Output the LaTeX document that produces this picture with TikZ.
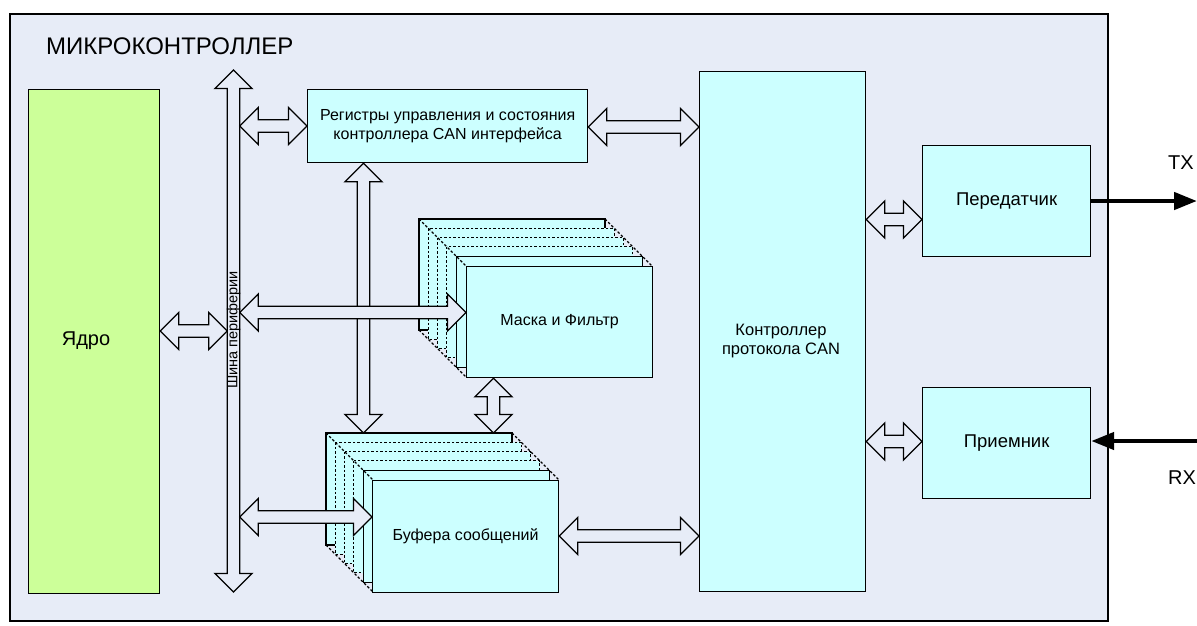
\documentclass[tikz,border=0pt]{standalone}
\usepackage{fontspec}
\setmainfont{Liberation Sans}
\usetikzlibrary{calc,arrows.meta}
\definecolor{bgc}{HTML}{E7ECF7}
\definecolor{cyanbox}{HTML}{CCFFFF}
\definecolor{limebox}{HTML}{CCFF99}
\newcommand{\fsnorm}{\fontsize{16}{18.5}\selectfont}
\newcommand{\fsbig}{\fontsize{18.5}{21}\selectfont}
% horizontal double block arrow: x from #1 and #2, y = #3
\newcommand{\harrow}[3]{\draw[blockarrow] let \p1=#1, \p2=#2, \p3=(0,#3) in
  (\x1,\y3) -- (\x1+18.5pt,\y3+18.5pt) -- (\x1+18.5pt,\y3+6.25pt) -- (\x2-18.5pt,\y3+6.25pt)
  -- (\x2-18.5pt,\y3+18.5pt) -- (\x2,\y3) -- (\x2-18.5pt,\y3-18.5pt) -- (\x2-18.5pt,\y3-6.25pt)
  -- (\x1+18.5pt,\y3-6.25pt) -- (\x1+18.5pt,\y3-18.5pt) -- cycle;}
% vertical double block arrow: y from #1 (top) and #2 (bottom), x = #3
\newcommand{\varrow}[3]{\draw[blockarrow] let \p1=#1, \p2=#2, \p3=(#3,0) in
  (\x3,\y1) -- (\x3+18.5pt,\y1-18.5pt) -- (\x3+6.25pt,\y1-18.5pt) -- (\x3+6.25pt,\y2+18.5pt)
  -- (\x3+18.5pt,\y2+18.5pt) -- (\x3,\y2) -- (\x3-18.5pt,\y2+18.5pt) -- (\x3-6.25pt,\y2+18.5pt)
  -- (\x3-6.25pt,\y1-18.5pt) -- (\x3-18.5pt,\y1-18.5pt) -- cycle;}
% stack of layers behind a front box: back top-left #1,#2, height #3
\newcommand{\layerstack}[3]{%
  \draw[layerbox] (#1,#2) rectangle ++(186,#3);
  \foreach \i in {1,2,3}{\draw[layerbox,dashedlayer] ({#1+9.3*\i},{#2+9.3*\i}) rectangle ++(186,#3);}
  \draw[layerbox] ({#1+9.3*4},{#2+9.3*4}) rectangle ++(186,#3);
  \draw[dashedlayer] (#1,#2) -- ++(46.5,46.5);
  \draw[dashedlayer] ({#1+186},#2) -- ++(46.5,46.5);
  \draw[dashedlayer] (#1,{#2+#3}) -- ++(46.5,46.5);
}
\begin{document}
\begin{tikzpicture}[x=1pt,y=-1pt,
  box/.style={draw, line width=1.2pt, fill=cyanbox, inner sep=0pt, anchor=north west, align=center, font=\fsnorm},
  layerbox/.style={draw, line width=1.2pt, fill=cyanbox},
  dashedlayer/.style={line width=1.1pt, dash pattern=on 2.5pt off 2pt},
  blockarrow/.style={draw, line width=1.3pt, fill=bgc, line join=miter},
  txt/.style={font=\fsnorm, align=center, inner sep=0pt},
  sig/.style={line width=4.5pt, -{Triangle[length=23pt,width=17pt]}}]
\useasboundingbox (0,0) rectangle (1197,625);
\fill[white] (0,0) rectangle (1197,625);
% microcontroller frame
\draw[line width=2.2pt, fill=bgc] (10,14) rectangle (1108,621);
\node[anchor=west, inner sep=0pt, font=\fontsize{24}{27}\selectfont] (title) at (46,46) {МИКРОКОНТРОЛЛЕР};
% core
\node[box, fill=limebox, minimum width=131pt, minimum height=504pt] (core) at (28,89) {};
\node[txt, font=\fontsize{20}{24}\selectfont] (coretext) at (86,341) {Ядро};
% peripheral bus
\coordinate (busT) at (233.5,70);
\coordinate (busB) at (233.5,592);
\coordinate (busL) at (227.25,0);
\coordinate (busR) at (239.75,0);
\varrow{(busT)}{(busB)}{233.5}
\node[rotate=90, inner sep=0pt, font=\fontsize{14.5}{16}\selectfont] (buslabel) at (233.5,330) {Шина периферии};
% registers
\node[box, minimum width=280pt, minimum height=73pt] (reg) at (307,89) {Регистры управления и состояния\\контроллера CAN интерфейса};
% CAN controller
\node[box, minimum width=166pt, minimum height=520pt] (can) at (699,71) {};
\node[txt, font=\fontsize{16.5}{19}\selectfont] (cantext) at (781,341) {Контроллер\\протокола CAN};
% transmitter / receiver
\node[box, font=\fsbig, minimum width=168pt, minimum height=111pt] (tx) at (922,145) {Передатчик};
\node[box, font=\fsbig, minimum width=168pt, minimum height=111pt] (rx) at (922,387) {Приемник};
% mask stack
\layerstack{419}{219}{111}
\node[box, minimum width=186pt, minimum height=111pt] (mask) at (466,266) {Маска и Фильтр};
% buffer stack
\layerstack{326}{433}{112}
\coordinate (bufback) at (326,433);
\node[box, minimum width=186pt, minimum height=112pt] (buf) at (372,480) {Буфера сообщений};
% block arrows
\varrow{(reg.south)}{(bufback)}{363.5}
\varrow{(mask.south)}{(bufback)}{493.5}
\harrow{(core.east)}{(busL)}{331}
\harrow{(busR)}{(reg.west)}{126}
\harrow{(reg.east)}{(can.west)}{127}
\harrow{(busR)}{(mask.west)}{312.5}
\harrow{(busR)}{(buf.west)}{517}
\harrow{(buf.east)}{(can.west)}{536}
\harrow{(can.east)}{(tx.west)}{219.5}
\harrow{(can.east)}{(rx.west)}{441.5}
% external signals
\coordinate (txend) at (1197,201);
\coordinate (rxstart) at (1197,441);
\draw[sig] (tx.east |- txend) -- (txend);
\draw[sig] (rxstart) -- (rx.east |- rxstart);
\node[txt, anchor=west, font=\fontsize{20}{23}\selectfont] (txlabel) at (1168,163) {TX};
\node[txt, anchor=west, font=\fontsize{20}{23}\selectfont] (rxlabel) at (1168,478) {RX};
\end{tikzpicture}
\end{document}
